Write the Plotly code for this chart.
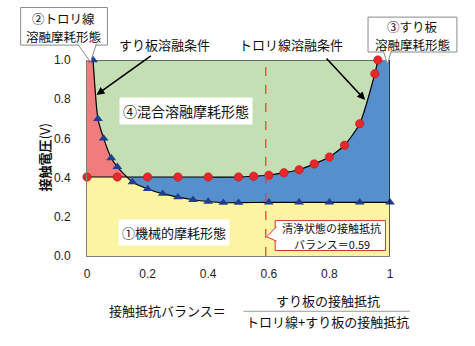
import plotly.graph_objects as go

# ---------------- data ----------------
tri_x = [0.02, 0.036, 0.055, 0.08, 0.10, 0.15, 0.20, 0.25, 0.30, 0.35, 0.40, 0.45, 0.50, 0.60, 0.70, 0.80, 0.90, 1.00]
tri_y = [1.00, 0.70, 0.60, 0.50, 0.455, 0.377, 0.342, 0.318, 0.300, 0.287, 0.278, 0.272, 0.272, 0.274, 0.274, 0.274, 0.274, 0.274]

red_x = [0.0, 0.1, 0.2, 0.3, 0.4, 0.5, 0.55, 0.6, 0.65, 0.7, 0.75, 0.8, 0.85, 0.9, 0.95, 0.96]
red_y = [0.403, 0.403, 0.403, 0.403, 0.403, 0.403, 0.407, 0.412, 0.425, 0.44, 0.47, 0.505, 0.565, 0.675, 0.93, 1.0]

x_tick_vals = [0, 0.2, 0.4, 0.6, 0.8, 1.0]
x_tick_text = ["0", "0.2", "0.4", "0.6", "0.8", "1"]
y_tick_vals = [0, 0.2, 0.4, 0.6, 0.8, 1.0]
y_tick_text = ["0.0", "0.2", "0.4", "0.6", "0.8", "1.0"]

clean_balance = 0.59

# ---------------- style ----------------
GREEN = "#C5DFB5"
PINK = "#F07C7C"
BLUE = "#5690CC"
YELLOW = "#FAF4A3"
RED = "#E8262B"
NAVY = "#1F3D91"
GRAY_BORDER = "#8A8A8A"
RED_BORDER = "#D83434"
FONT = "Liberation Sans, Arial, Noto Sans CJK JP, sans-serif"
CJK = "Noto Sans CJK JP, sans-serif"

X0, X1, Y0, Y1 = 0.0, 1.0, 0.0, 1.0

fig = go.Figure()

def area(xs, ys, color):
    fig.add_trace(go.Scatter(x=xs, y=ys, fill="toself", fillcolor=color, mode="none",
                             hoverinfo="skip", showlegend=False))

# green: whole region
area([X0, X0, X1, X1], [Y0, Y1, Y1, Y0], GREEN)
# blue: below the red (trolley-wire melting) curve
area([X0] + red_x + [X1, X1], [Y0] + red_y + [red_y[-1], Y0], BLUE)
# pink: below the triangle (strip melting) curve
area([X0, X0] + tri_x + [X1], [Y0, tri_y[0]] + tri_y + [Y0], PINK)
# yellow: below min(level, triangle curve)
level = red_y[0]
i = next(k for k in range(len(tri_y) - 1) if tri_y[k] >= level > tri_y[k + 1])
t = (tri_y[i] - level) / (tri_y[i] - tri_y[i + 1])
xc = tri_x[i] + t * (tri_x[i + 1] - tri_x[i])
area([X0, X0, xc] + tri_x[i + 1:] + [X1], [Y0, level, level] + tri_y[i + 1:] + [Y0], YELLOW)

# black boundary curves
fig.add_trace(go.Scatter(x=red_x, y=red_y, mode="lines", line=dict(color="black", width=1.2, shape="spline", smoothing=0.6),
                         hoverinfo="skip", showlegend=False))
fig.add_trace(go.Scatter(x=tri_x, y=tri_y, mode="lines", line=dict(color="black", width=1.2, shape="spline", smoothing=0.6),
                         hoverinfo="skip", showlegend=False))
fig.add_trace(go.Scatter(x=[tri_x[0], red_x[-1]], y=[tri_y[0], red_y[-1]], mode="lines",
                         line=dict(color="black", width=1.2), hoverinfo="skip", showlegend=False))

# markers
fig.add_trace(go.Scatter(x=red_x, y=red_y, mode="markers", cliponaxis=False,
                         marker=dict(symbol="circle", size=8.5, color=RED, line=dict(color="#B01818", width=0.5)),
                         showlegend=False))
fig.add_trace(go.Scatter(x=tri_x, y=tri_y, mode="markers", cliponaxis=False,
                         marker=dict(symbol="triangle-up", size=8.5, color=NAVY, line=dict(width=0)),
                         showlegend=False))

def box(x0, x1, y0, y1, color):
    return dict(type="rect", xref="paper", yref="paper", x0=x0, x1=x1, y0=y0, y1=y1,
                fillcolor="white", line=dict(color=color, width=1))

def wedge(path, color):
    return dict(type="path", xref="paper", yref="paper", path=path,
                fillcolor="white", line=dict(color=color, width=1))

shapes = [
    dict(type="line", xref="x", yref="y", x0=X1, x1=X1, y0=Y0, y1=Y1, line=dict(color="black", width=1.2)),
    dict(type="line", xref="x", yref="y", x0=clean_balance, x1=clean_balance, y0=Y0, y1=Y1,
         line=dict(color="#E5462F", width=1.3, dash="dash")),
    # fraction bar
    dict(type="line", xref="paper", yref="paper", x0=0.516, x1=1.066, y0=-0.282, y1=-0.282,
         line=dict(color="#9A9A9A", width=1)),
    # callout boxes + wedges (wedges drawn after to hide box border at the joint)
    box(-0.219, 0.0675, 1.076, 1.268, GRAY_BORDER),
    wedge("M -0.031,1.082 L 0.0115,0.99 L 0.031,1.082", GRAY_BORDER),
    box(0.9275, 1.2208, 1.0407, 1.2188, GRAY_BORDER),
    wedge("M 0.978,1.047 L 0.991,0.979 L 1.005,1.047", GRAY_BORDER),
    box(0.621, 0.985, 0.028, 0.1807, RED_BORDER),
    wedge("M 0.626,0.150 L 0.593,0.098 L 0.626,0.075", RED_BORDER),
]

ann = []
def txt(x, y, s, size=13, **kw):
    d = dict(x=x, y=y, xref="paper", yref="paper", text=s, showarrow=False,
             xanchor="center", yanchor="middle", borderpad=0,
             font=dict(family=CJK, size=size, color="#111"))
    d.update(kw)
    ann.append(d)

txt(-0.077, 1.2137, "②トロリ線", size=12.5)
txt(-0.077, 1.1196, "溶融摩耗形態", size=12.5)
txt(1.0758, 1.1730, "③すり板", size=12.5)
txt(1.0758, 1.0814, "溶融摩耗形態", size=12.5)
txt(0.255, 1.081, "すり板溶融条件")
txt(0.674, 1.081, "トロリ線溶融条件")
txt(0.328, 0.74, "④混合溶融摩耗形態", size=14, bgcolor="white", borderpad=3)
txt(0.288, 0.12, "①機械的摩耗形態", size=13, bgcolor="white", borderpad=3)
txt(0.808, 0.1425, "清浄状態の接触抵抗", size=11)
txt(0.808, 0.0611, "バランス＝0.59", size=11)
txt(-0.14, 0.501, "<b>接触電圧</b>(V)", size=13, textangle=-90)
txt(0.265, -0.277, "接触抵抗バランス＝")
txt(0.797, -0.226, "すり板の接触抵抗")
txt(0.793, -0.333, "トロリ線+すり板の接触抵抗")

# arrows
ann.append(dict(x=0.031, y=0.822, xref="x", yref="y", ax=56, ay=-40, text="", showarrow=True,
                arrowhead=2, arrowsize=1, arrowwidth=1.6, arrowcolor="black"))
ann.append(dict(x=0.918, y=0.796, xref="x", yref="y", ax=-40, ay=-43, text="", showarrow=True,
                arrowhead=2, arrowsize=1, arrowwidth=1.6, arrowcolor="black"))

fig.update_layout(
    width=475, height=346,
    margin=dict(l=86.5, r=85, t=60, b=89.5),
    paper_bgcolor="white", plot_bgcolor="white",
    font=dict(family=FONT, size=12, color="#222"),
    shapes=shapes, annotations=ann, showlegend=False,
    xaxis=dict(range=[X0, X1], tickvals=x_tick_vals, ticktext=x_tick_text, showgrid=False, zeroline=False,
               showline=True, linecolor="#808080", linewidth=1, ticks="", ticklabelstandoff=7,
               tickfont=dict(family=FONT, size=12, color="#222"), fixedrange=True),
    yaxis=dict(range=[Y0, Y1], tickvals=y_tick_vals, ticktext=y_tick_text, showgrid=False, zeroline=False,
               showline=True, linecolor="#808080", linewidth=1, ticks="", ticklabelstandoff=13,
               tickfont=dict(family=FONT, size=12, color="#222"), fixedrange=True),
)

fig.write_html("out.html")
